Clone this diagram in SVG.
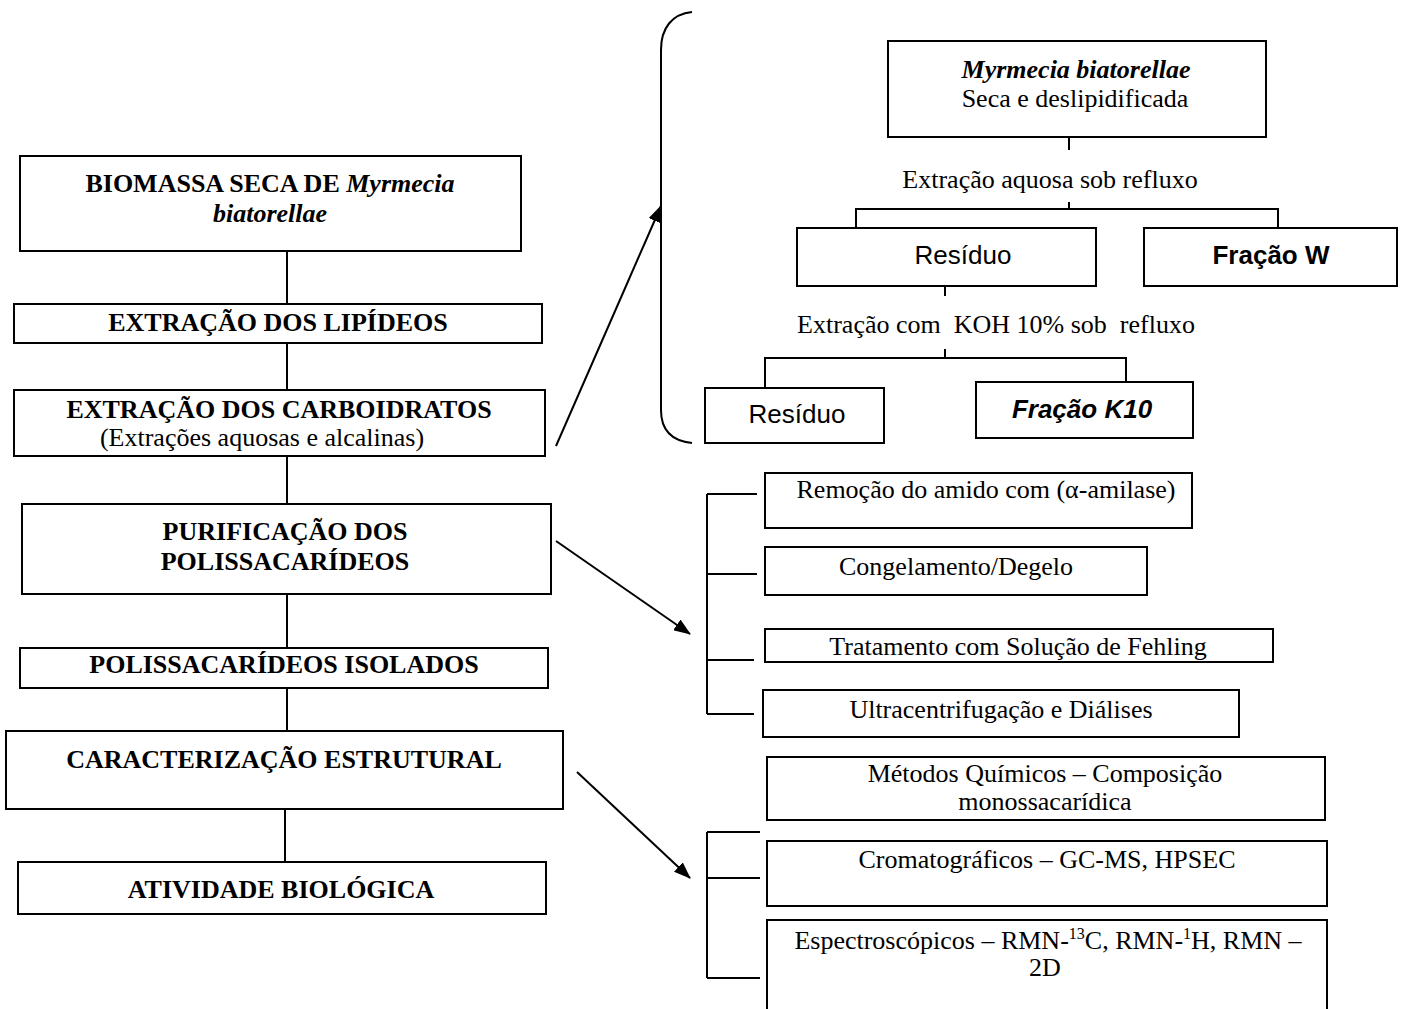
<svg xmlns="http://www.w3.org/2000/svg" width="1405" height="1009" viewBox="0 0 1405 1009">
<style>
.box{fill:#fff;stroke:#000;stroke-width:2}
.ln{fill:none;stroke:#000;stroke-width:2}
.t{font-family:"Liberation Serif","Times New Roman",serif;font-size:26px;fill:#000;text-anchor:middle}
.b{font-weight:bold}
.i{font-style:italic}
.a{font-family:"Liberation Sans",Arial,sans-serif;font-size:26px;fill:#000;text-anchor:middle}
</style>
<defs>
<marker id="ah2" viewBox="0 0 17 13" refX="16" refY="6.5" markerWidth="17" markerHeight="13" markerUnits="userSpaceOnUse" orient="auto">
<path d="M0,0 L17,6.5 L0,13 z" fill="#000"/>
</marker>
</defs>
<rect width="1405" height="1009" fill="#fff"/>

<g id="connectors">
<line class="ln" x1="287" y1="251" x2="287" y2="304"/>
<line class="ln" x1="287" y1="343" x2="287" y2="390"/>
<line class="ln" x1="287" y1="456" x2="287" y2="504"/>
<line class="ln" x1="287" y1="594" x2="287" y2="648"/>
<line class="ln" x1="287" y1="688" x2="287" y2="731"/>
<line class="ln" x1="285" y1="809" x2="285" y2="862"/>
<line class="ln" x1="556" y1="446" x2="661" y2="206" marker-end="url(#ah2)"/>
<line class="ln" x1="556" y1="541" x2="690" y2="634" marker-end="url(#ah2)"/>
<line class="ln" x1="577" y1="772" x2="690" y2="878" marker-end="url(#ah2)"/>
<path class="ln" d="M692,12 C672,14 661,28 661,50 L661,410 C661,430 672,441 692,443"/>
<line class="ln" x1="1069" y1="137" x2="1069" y2="150"/>
<line class="ln" x1="1069" y1="202" x2="1069" y2="209"/>
<polyline class="ln" points="856,228 856,209 1278,209 1278,228"/>
<line class="ln" x1="945" y1="286" x2="945" y2="296"/>
<line class="ln" x1="945" y1="349" x2="945" y2="358"/>
<polyline class="ln" points="765,388 765,358 1126,358 1126,382"/>
<line class="ln" x1="707" y1="494" x2="707" y2="714"/>
<line class="ln" x1="707" y1="494" x2="757" y2="494"/>
<line class="ln" x1="707" y1="574" x2="757" y2="574"/>
<line class="ln" x1="707" y1="660" x2="754" y2="660"/>
<line class="ln" x1="707" y1="714" x2="754" y2="714"/>
<line class="ln" x1="707" y1="832" x2="707" y2="978"/>
<line class="ln" x1="707" y1="832" x2="760" y2="832"/>
<line class="ln" x1="707" y1="878" x2="760" y2="878"/>
<line class="ln" x1="707" y1="978" x2="760" y2="978"/>
</g>

<g id="n-biomassa">
<rect class="box" x="20" y="156" width="501" height="95"/>
<text class="t b" x="270" y="192">BIOMASSA SECA DE <tspan class="i">Myrmecia</tspan></text>
<text class="t b i" x="270" y="222">biatorellae</text>
</g>
<g id="n-lipideos">
<rect class="box" x="14" y="304" width="528" height="39"/>
<text class="t b" x="278" y="331">EXTRAÇÃO DOS LIPÍDEOS</text>
</g>
<g id="n-carboidratos">
<rect class="box" x="14" y="390" width="531" height="66"/>
<text class="t b" x="279" y="418">EXTRAÇÃO DOS CARBOIDRATOS</text>
<text class="t" x="262" y="446">(Extrações aquosas e alcalinas)</text>
</g>
<g id="n-purificacao">
<rect class="box" x="22" y="504" width="529" height="90"/>
<text class="t b" x="285" y="540">PURIFICAÇÃO DOS</text>
<text class="t b" x="285" y="570">POLISSACARÍDEOS</text>
</g>
<g id="n-isolados">
<rect class="box" x="20" y="648" width="528" height="40"/>
<text class="t b" x="284" y="673">POLISSACARÍDEOS ISOLADOS</text>
</g>
<g id="n-caracterizacao">
<rect class="box" x="6" y="731" width="557" height="78"/>
<text class="t b" x="284" y="768">CARACTERIZAÇÃO ESTRUTURAL</text>
</g>
<g id="n-atividade">
<rect class="box" x="18" y="862" width="528" height="52"/>
<text class="t b" x="281" y="898">ATIVIDADE BIOLÓGICA</text>
</g>

<g id="n-myrmecia">
<rect class="box" x="888" y="41" width="378" height="96"/>
<text class="t b i" x="1076" y="78">Myrmecia biatorellae</text>
<text class="t" x="1075" y="107">Seca e deslipidificada</text>
</g>
<g id="l-aquosa">
<text class="t" x="1050" y="188">Extração aquosa sob refluxo</text>
</g>
<g id="n-residuo1">
<rect class="box" x="797" y="228" width="299" height="58"/>
<text class="a" x="963" y="264">Resíduo</text>
</g>
<g id="n-fracaow">
<rect class="box" x="1144" y="228" width="253" height="58"/>
<text class="a b" x="1271" y="264">Fração W</text>
</g>
<g id="l-koh">
<text class="t" x="996" y="333" xml:space="preserve" style="white-space:pre">Extração com  KOH 10% sob  refluxo</text>
</g>
<g id="n-residuo2">
<rect class="box" x="705" y="388" width="179" height="55"/>
<text class="a" x="797" y="423">Resíduo</text>
</g>
<g id="n-fracaok10">
<rect class="box" x="976" y="382" width="217" height="56"/>
<text class="a b i" x="1082" y="418">Fração K10</text>
</g>

<g id="n-remocao">
<rect class="box" x="765" y="473" width="427" height="55"/>
<text class="t" x="986" y="498">Remoção do amido com (α-amilase)</text>
</g>
<g id="n-congelamento">
<rect class="box" x="765" y="547" width="382" height="48"/>
<text class="t" x="956" y="575">Congelamento/Degelo</text>
</g>
<g id="n-fehling">
<rect class="box" x="765" y="629" width="508" height="33"/>
<text class="t" x="1018" y="655">Tratamento com Solução de Fehling</text>
</g>
<g id="n-ultra">
<rect class="box" x="763" y="690" width="476" height="47"/>
<text class="t" x="1001" y="718">Ultracentrifugação e Diálises</text>
</g>

<g id="n-quimicos">
<rect class="box" x="767" y="757" width="558" height="63"/>
<text class="t" x="1045" y="782">Métodos Químicos – Composição</text>
<text class="t" x="1045" y="810">monossacarídica</text>
</g>
<g id="n-cromato">
<rect class="box" x="767" y="841" width="560" height="65"/>
<text class="t" x="1047" y="868">Cromatográficos – GC-MS, HPSEC</text>
</g>
<g id="n-espectro">
<rect class="box" x="767" y="920" width="560" height="100"/>
<text class="t" x="1048" y="949">Espectroscópicos – RMN-<tspan font-size="16" dy="-10">13</tspan><tspan dy="10">C, RMN-</tspan><tspan font-size="16" dy="-10">1</tspan><tspan dy="10">H, RMN –</tspan></text>
<text class="t" x="1045" y="976">2D</text>
</g>
</svg>
